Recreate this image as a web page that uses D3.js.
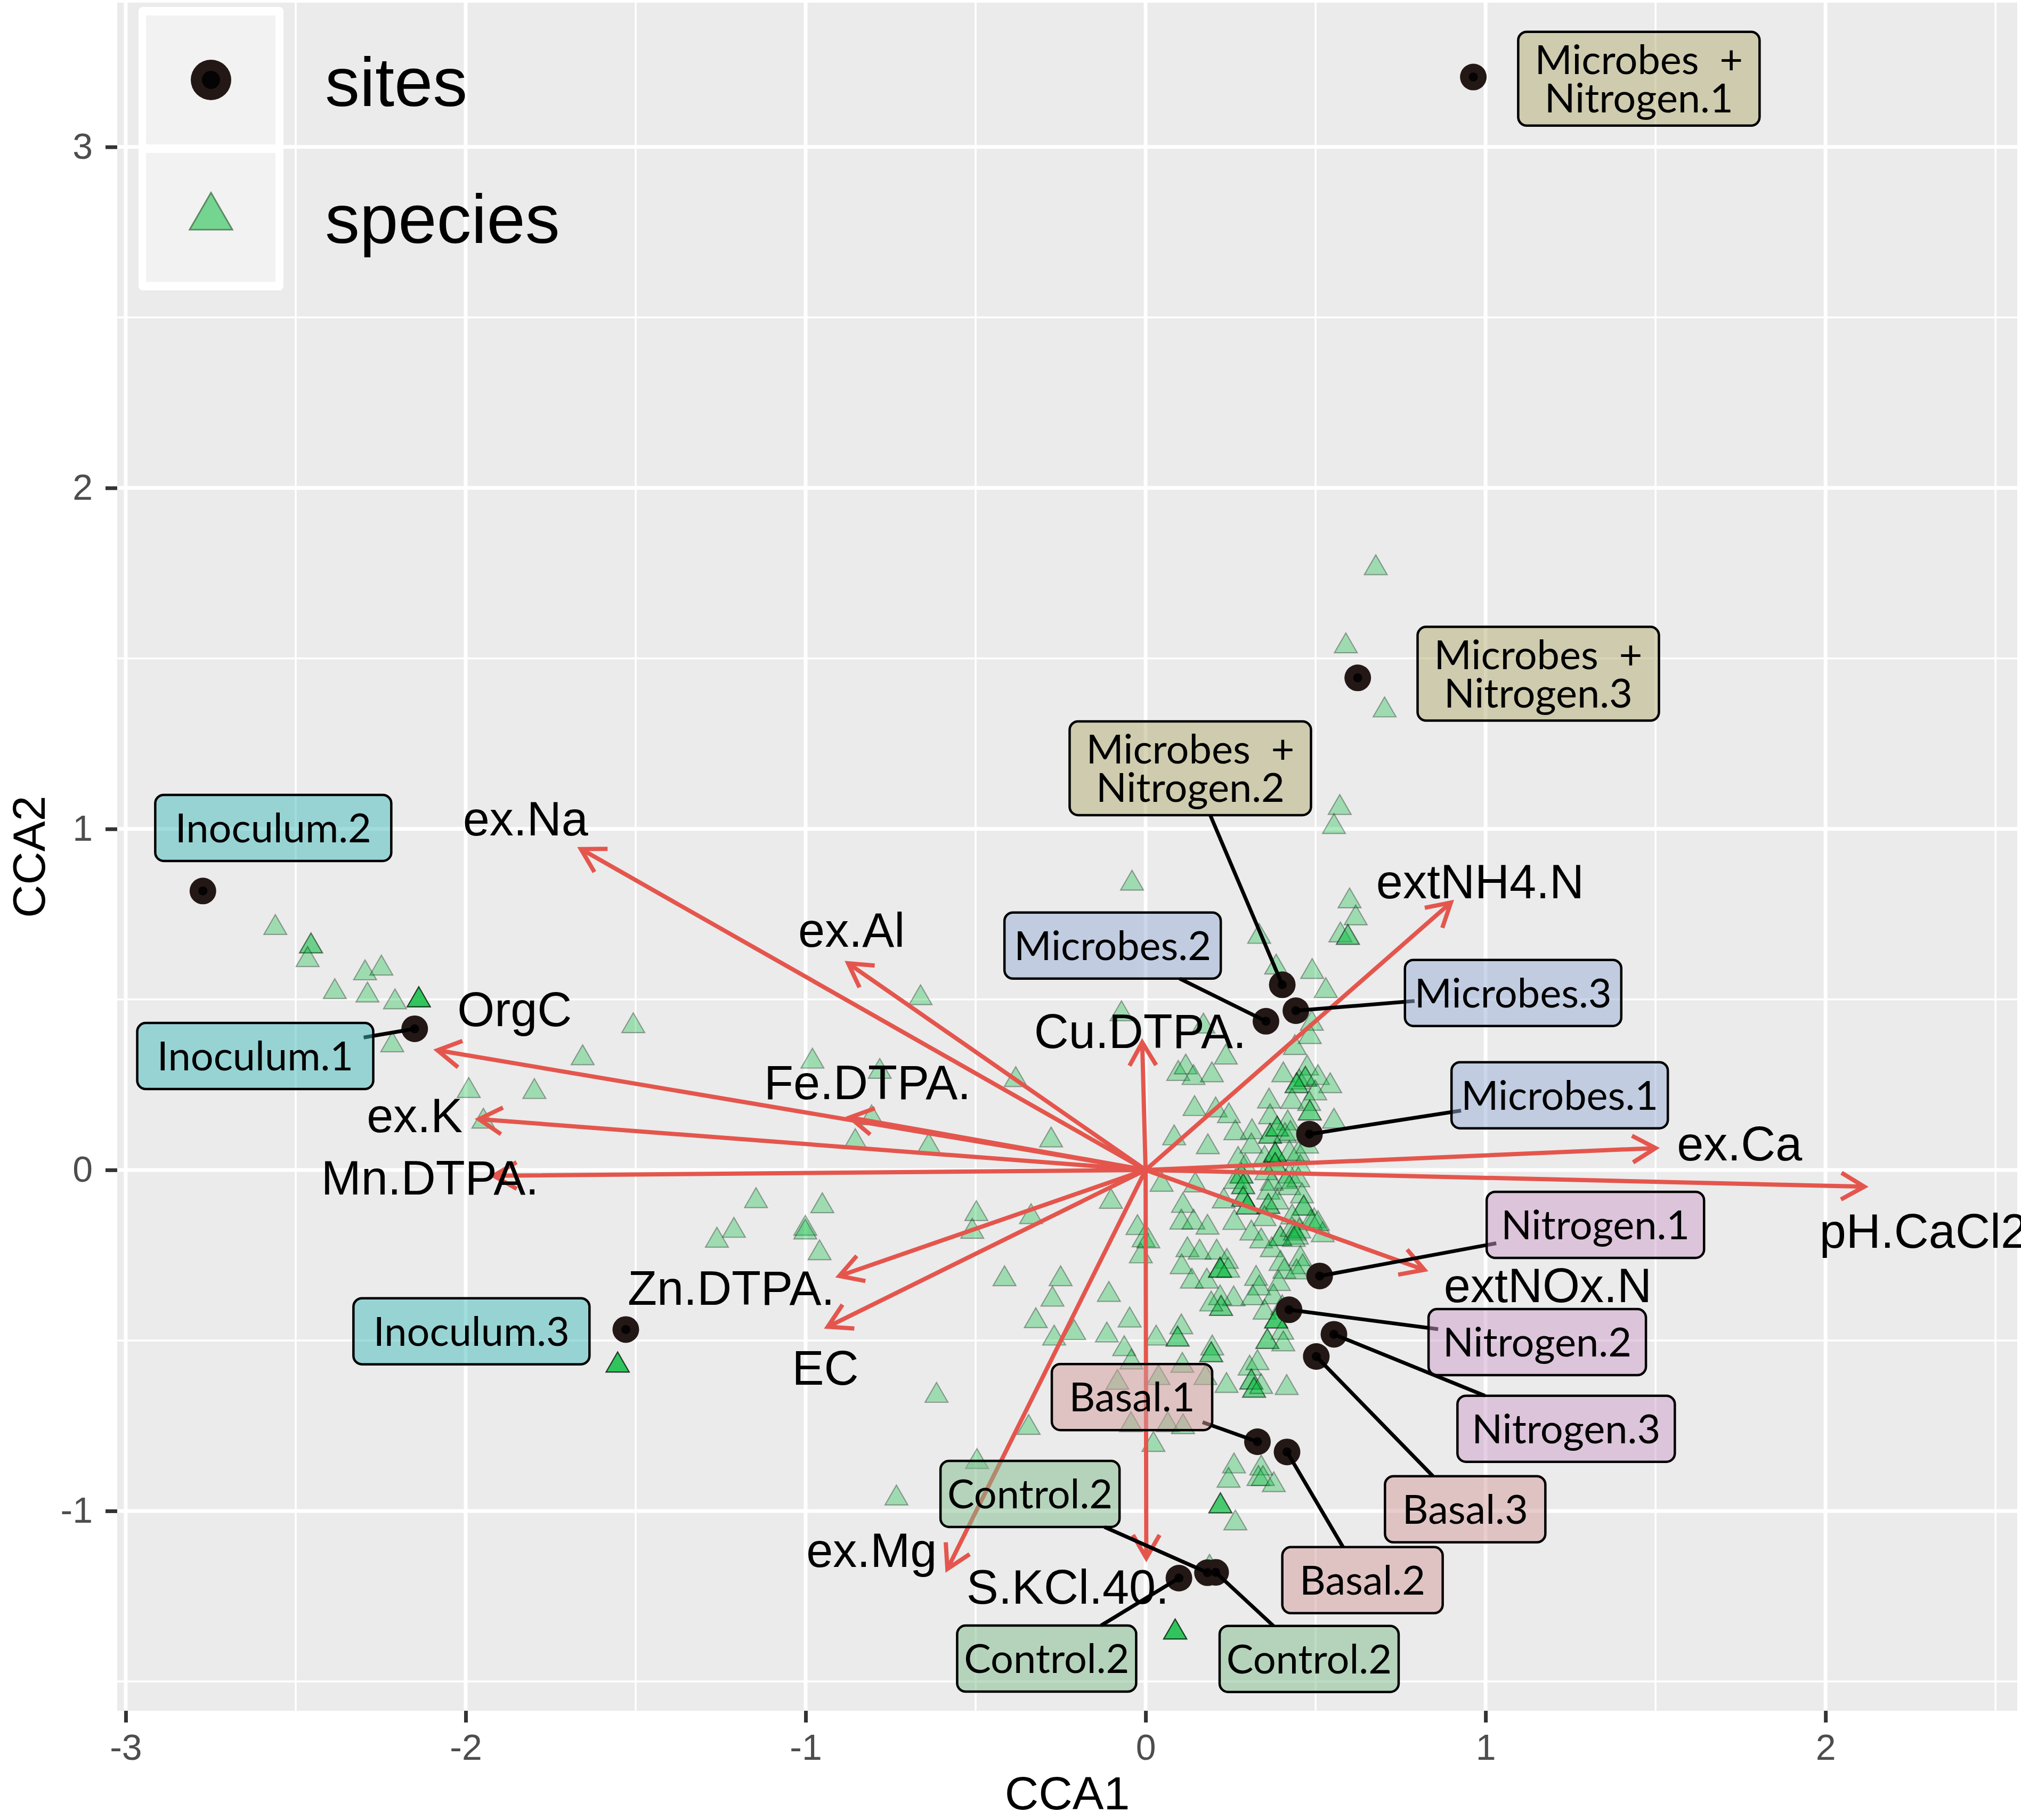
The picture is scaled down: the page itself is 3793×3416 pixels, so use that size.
<!DOCTYPE html>
<html>
<head>
<meta charset="utf-8">
<script src="https://cdn.jsdelivr.net/npm/d3@7"></script>
<style>
  body { margin: 0; background: #fff; }
  svg { display: block; }
</style>
</head>
<body>
<svg width="3793" height="3416"></svg>
<script>
// ---- data ----
var xTicks = [-3, -2, -1, 0, 1, 2];
var yTicks = [-1, 0, 1, 2, 3];
var xMinor = [-2.5, -1.5, -0.5, 0.5, 1.5, 2.5];
var yMinor = [-1.5, -0.5, 0.5, 1.5, 2.5];

// sites (samples)
var siteLabels = ["Microbes  +\nNitrogen.1", "Microbes  +\nNitrogen.2", "Microbes  +\nNitrogen.3",
  "Microbes.1", "Microbes.2", "Microbes.3",
  "Nitrogen.1", "Nitrogen.2", "Nitrogen.3",
  "Basal.1", "Basal.2", "Basal.3",
  "Control.2", "Control.2", "Control.2",
  "Inoculum.1", "Inoculum.2", "Inoculum.3"];
var siteGroup = ["MN", "MN", "MN", "Microbes", "Microbes", "Microbes",
  "Nitrogen", "Nitrogen", "Nitrogen", "Basal", "Basal", "Basal",
  "Control", "Control", "Control", "Inoculum", "Inoculum", "Inoculum"];
var siteCCA1 = [0.964, 0.402, 0.624, 0.482, 0.354, 0.442, 0.512, 0.422, 0.554,
  0.329, 0.416, 0.502, 0.182, 0.098, 0.206, -2.150, -2.773, -1.529];
var siteCCA2 = [3.205, 0.543, 1.443, 0.105, 0.436, 0.467, -0.311, -0.410, -0.482,
  -0.797, -0.827, -0.547, -1.181, -1.197, -1.180, 0.414, 0.818, -0.468];
// where the repelled labels ended up (CCA units)
var labelCCA1 = [1.451, 0.1315, 1.155, 1.218, -0.097, 1.081, 1.323, 1.152, 1.237,
  -0.040, 0.638, 0.940, -0.340, -0.291, 0.481, -2.619, -2.566, -1.983];
var labelCCA2 = [3.200, 1.178, 1.455, 0.219, 0.658, 0.519, -0.161, -0.505, -0.759,
  -0.666, -1.203, -0.995, -0.950, -1.433, -1.434, 0.334, 1.003, -0.473];
var noSegment = [0, 2, 16, 17];

// environmental vectors
var envNames = ["ex.Na", "ex.Al", "OrgC", "ex.K", "Mn.DTPA.", "Fe.DTPA.", "Zn.DTPA.", "EC",
  "Cu.DTPA.", "extNH4.N", "ex.Ca", "pH.CaCl2", "extNOx.N", "S.KCl.40.", "ex.Mg"];
var envCCA1 = [-1.661, -0.875, -2.083, -1.961, -1.918, -0.870, -0.901, -0.935,
  -0.010, 0.898, 1.500, 2.114, 0.820, 0.002, -0.583];
var envCCA2 = [0.941, 0.606, 0.351, 0.149, -0.017, 0.154, -0.311, -0.460,
  0.374, 0.784, 0.064, -0.049, -0.293, -1.138, -1.170];
var envLabelCCA1 = [-1.824, -0.865, -1.856, -2.150, -2.105, -0.818, -1.219, -0.942,
  -0.016, 0.984, 1.747, 2.288, 1.183, -0.229, -0.806];
var envLabelCCA2 = [1.031, 0.705, 0.473, 0.162, -0.022, 0.258, -0.345, -0.579,
  0.408, 0.848, 0.078, -0.178, -0.337, -1.222, -1.113];

// species scores [CCA1, CCA2]
var species = [
  [-2.560, 0.710], [-2.455, 0.656], [-2.455, 0.656], [-2.465, 0.616], [-2.296, 0.577],
  [-2.248, 0.591], [-2.385, 0.522], [-2.289, 0.512], [-2.208, 0.492],
  [-2.138, 0.498], [-2.138, 0.498], [-2.138, 0.498], [-2.138, 0.498],
  [-2.216, 0.366], [-1.507, 0.422], [-1.656, 0.328], [-1.991, 0.232], [-1.798, 0.229], [-1.948, 0.142],
  [-0.980, 0.318], [-0.782, 0.288], [-0.806, 0.152], [-0.854, 0.082], [-0.638, 0.069],
  [-0.662, 0.504], [-0.382, 0.264], [-0.278, 0.087], [-1.146, -0.091], [-0.951, -0.106],
  [-1.211, -0.178], [-1.261, -0.207], [-1.001, -0.172], [-1.001, -0.183], [-0.959, -0.244],
  [-0.498, -0.129], [-0.510, -0.181], [-0.337, -0.138], [-0.415, -0.320], [-0.250, -0.320],
  [-0.274, -0.380], [-0.323, -0.443], [-0.269, -0.494], [-0.210, -0.478], [-0.615, -0.662],
  [-0.344, -0.756], [-0.496, -0.856], [-0.733, -0.963],
  [-1.553, -0.573], [-1.553, -0.573], [-1.553, -0.573], [-1.553, -0.573],
  [-0.102, -0.093], [-0.024, -0.170], [-0.006, -0.206], [-0.014, -0.253], [-0.108, -0.366],
  [-0.047, -0.441], [-0.114, -0.485], [-0.063, -0.525], [-0.042, -0.564], [-0.083, -0.624],
  [-0.043, -0.748], [0.065, -0.748], [0.110, -0.754], [0.023, -0.806],
  [0.087, -1.356], [0.087, -1.356], [0.087, -1.356], [0.087, -1.356],
  [0.220, -0.986], [0.220, -0.986], [0.220, -0.986],
  [0.264, -1.036], [0.188, -1.166], [0.260, -0.869], [0.244, -0.911], [0.340, -0.875],
  [0.332, -0.906], [0.345, -0.906], [0.377, -0.924], [0.038, -0.610], [0.108, -0.574],
  [0.176, -0.610], [0.238, -0.633], [0.415, -0.639],
  [0.677, 1.765], [0.589, 1.536], [0.703, 1.348], [0.571, 1.062], [0.554, 1.006],
  [-0.040, 0.840], [0.600, 0.788], [0.618, 0.738], [0.334, 0.684], [0.384, 0.594],
  [0.490, 0.581], [0.530, 0.525], [0.573, 0.688], [0.595, 0.681], [0.595, 0.681],
  [-0.071, 0.457], [0.170, 0.421], [0.096, 0.282], [0.118, 0.301], [0.141, 0.270],
  [0.195, 0.278], [0.236, 0.330], [0.489, 0.429], [0.483, 0.390], [0.439, 0.358],
  [0.405, 0.278], [0.475, 0.298], [0.452, 0.257], [0.470, 0.265], [0.470, 0.265],
  [0.507, 0.270], [0.543, 0.246], [0.499, 0.225], [0.444, 0.246], [0.444, 0.246],
  [0.431, 0.200], [0.481, 0.194], [0.483, 0.166], [0.483, 0.166], [0.554, 0.142],
  [0.363, 0.201], [0.144, 0.179], [0.206, 0.175], [0.245, 0.158], [0.366, 0.155],
  [0.418, 0.137], [0.264, 0.108], [0.313, 0.111], [0.311, 0.069], [0.366, 0.098],
  [0.366, 0.098], [0.387, 0.119], [0.387, 0.119], [0.410, 0.100], [0.426, 0.106],
  [0.084, 0.093], [0.183, 0.067], [0.272, 0.030], [0.293, 0.009], [0.350, 0.033],
  [0.381, 0.043], [0.381, 0.043], [0.381, 0.043], [0.381, 0.012], [0.381, 0.012],
  [0.423, 0.048], [0.449, 0.046], [0.475, 0.069], [0.455, 0.007], [0.355, -0.009],
  [0.423, -0.019], [0.282, -0.019], [0.282, -0.019], [0.264, -0.035], [0.287, -0.050],
  [0.287, -0.050], [0.371, -0.040], [0.413, -0.035], [0.449, -0.030], [0.146, -0.045],
  [0.047, -0.043], [0.361, -0.066], [0.423, -0.053], [0.460, -0.077], [0.230, -0.092],
  [0.287, -0.087], [0.287, -0.087], [0.300, -0.110], [0.300, -0.110], [0.361, -0.108],
  [0.361, -0.108], [0.387, -0.095], [0.465, -0.113], [0.465, -0.113], [0.110, -0.105],
  [0.105, -0.154], [0.141, -0.154], [0.182, -0.169], [0.261, -0.155], [0.431, -0.139],
  [0.350, -0.144], [0.496, -0.150], [0.311, -0.186], [0.340, -0.209], [0.396, -0.202],
  [0.396, -0.202], [0.430, -0.175], [0.439, -0.186], [0.445, -0.198], [0.452, -0.180],
  [0.436, -0.205], [0.521, -0.191], [0.486, -0.155], [0.371, -0.235], [0.455, -0.261],
  [0.397, -0.275], [0.408, -0.298], [0.462, -0.285], [0.444, -0.300], [0.392, -0.334],
  [0.008, -0.209], [0.123, -0.235], [0.159, -0.242], [0.209, -0.242], [0.106, -0.285],
  [0.136, -0.327], [0.180, -0.327], [0.239, -0.269], [0.219, -0.295], [0.219, -0.295],
  [0.219, -0.295], [0.243, -0.295], [0.259, -0.379], [0.219, -0.376], [0.222, -0.407],
  [0.222, -0.407], [0.193, -0.394], [0.325, -0.319], [0.334, -0.347], [0.315, -0.376],
  [0.376, -0.373], [0.350, -0.418], [0.402, -0.405], [0.384, -0.444], [0.384, -0.444],
  [0.384, -0.444], [0.402, -0.477], [0.358, -0.504], [0.358, -0.504], [0.405, -0.511],
  [0.031, -0.494], [0.105, -0.461], [0.094, -0.497], [0.094, -0.497], [0.196, -0.523],
  [0.193, -0.543], [0.193, -0.543], [0.306, -0.582], [0.329, -0.566], [0.311, -0.623],
  [0.311, -0.623], [0.319, -0.647], [0.319, -0.647], [0.340, -0.636], [0.507, -0.158]
];

// ---- styling ----
var groupStyle = {
  MN:       { fill: "rgba(179,171,113,0.5)", w: 453 },
  Microbes: { fill: "rgba(151,173,213,0.5)", w: 406 },
  Nitrogen: { fill: "rgba(205,157,201,0.5)", w: 408 },
  Basal:    { fill: "rgba(211,155,155,0.5)", w: 301 },
  Control:  { fill: "rgba(127,187,139,0.5)", w: 336 },
  Inoculum: { fill: "rgba(69,187,189,0.5)",  w: 443 }
};
var arrowRed = "#E4564D";
var sansFont = "'Liberation Sans', Arial, Helvetica, sans-serif";
var labelFontFamily = "Lato, 'Open Sans', sans-serif";

var svg = d3.select("svg");
var panel = { left: 220, right: 3786, top: 5, bottom: 3211 };

var x = d3.scaleLinear().domain([-3.025, 2.564]).range([panel.left, panel.right]);
var y = d3.scaleLinear().domain([-1.586, 3.423]).range([panel.bottom, panel.top]);

// panel background + grid
svg.append("rect")
  .attr("x", panel.left).attr("y", panel.top)
  .attr("width", panel.right - panel.left).attr("height", panel.bottom - panel.top)
  .attr("fill", "#EBEBEB");

var grid = svg.append("g").attr("stroke", "#fff").attr("fill", "none");
grid.selectAll(".vminor").data(xMinor).enter().append("line")
  .attr("x1", function(d) { return x(d); }).attr("x2", function(d) { return x(d); })
  .attr("y1", panel.top).attr("y2", panel.bottom).attr("stroke-width", 3.5);
grid.selectAll(".hminor").data(yMinor).enter().append("line")
  .attr("y1", function(d) { return y(d); }).attr("y2", function(d) { return y(d); })
  .attr("x1", panel.left).attr("x2", panel.right).attr("stroke-width", 3.5);
grid.selectAll(".vmajor").data(xTicks).enter().append("line")
  .attr("x1", function(d) { return x(d); }).attr("x2", function(d) { return x(d); })
  .attr("y1", panel.top).attr("y2", panel.bottom).attr("stroke-width", 7);
grid.selectAll(".hmajor").data(yTicks).enter().append("line")
  .attr("y1", function(d) { return y(d); }).attr("y2", function(d) { return y(d); })
  .attr("x1", panel.left).attr("x2", panel.right).attr("stroke-width", 7);

// species triangles
function triPath(s) {
  var h = s * Math.sqrt(3) / 2;
  return "M0," + (-2 * h / 3) + "L" + (s / 2) + "," + (h / 3) + "L" + (-s / 2) + "," + (h / 3) + "Z";
}
svg.append("g").selectAll("path").data(species).enter().append("path")
  .attr("d", triPath(43))
  .attr("transform", function(d) { return "translate(" + x(d[0]) + "," + y(d[1]) + ")"; })
  .attr("fill", "rgba(0,186,56,0.32)")
  .attr("stroke", "rgba(0,0,0,0.32)")
  .attr("stroke-width", 2.2);

// environmental arrows
function arrowPath(x0, y0, x1, y1) {
  var a = Math.atan2(y1 - y0, x1 - x0), L = 50, h = Math.PI / 6;
  var p1 = [x1 - L * Math.cos(a - h), y1 - L * Math.sin(a - h)];
  var p2 = [x1 - L * Math.cos(a + h), y1 - L * Math.sin(a + h)];
  return "M" + x0 + "," + y0 + "L" + x1 + "," + y1 +
    "M" + p1[0] + "," + p1[1] + "L" + x1 + "," + y1 + "L" + p2[0] + "," + p2[1];
}
svg.append("g").selectAll("path").data(envNames).enter().append("path")
  .attr("d", function(d, i) { return arrowPath(x(0), y(0), x(envCCA1[i]), y(envCCA2[i])); })
  .attr("fill", "none")
  .attr("stroke", arrowRed)
  .attr("stroke-width", 8)
  .attr("stroke-linejoin", "miter");

// site points
var sites = svg.append("g");
sites.selectAll(".outer").data(siteLabels).enter().append("circle")
  .attr("cx", function(d, i) { return x(siteCCA1[i]); })
  .attr("cy", function(d, i) { return y(siteCCA2[i]); })
  .attr("r", 25).attr("fill", "#231815");
sites.selectAll(".inner").data(siteLabels).enter().append("circle")
  .attr("cx", function(d, i) { return x(siteCCA1[i]); })
  .attr("cy", function(d, i) { return y(siteCCA2[i]); })
  .attr("r", 8.5).attr("fill", "#050303");

// vector labels
svg.append("g").selectAll("text").data(envNames).enter().append("text")
  .attr("x", function(d, i) { return x(envLabelCCA1[i]); })
  .attr("y", function(d, i) { return y(envLabelCCA2[i]); })
  .attr("dy", "0.36em")
  .attr("text-anchor", "middle")
  .attr("font-family", sansFont)
  .attr("font-size", 90)
  .attr("fill", "#000")
  .text(function(d) { return d; });

// site label boxes (ggrepel style)
var probe = svg.append("text").attr("font-family", labelFontFamily).attr("font-size", 100).text("Microbes.2");
var labelFont = 100 * 370 / probe.node().getComputedTextLength();
probe.remove();
var lineGap = 72;

function boxOf(i) {
  var lines = siteLabels[i].split("\n");
  var w = groupStyle[siteGroup[i]].w;
  var h = 124 + (lines.length - 1) * 52;
  return { cx: x(labelCCA1[i]), cy: y(labelCCA2[i]), w: w, h: h, lines: lines };
}

var segs = svg.append("g");
siteLabels.forEach(function(d, i) {
  if (noSegment.indexOf(i) >= 0) return;
  var b = boxOf(i);
  var px = x(siteCCA1[i]), py = y(siteCCA2[i]);
  var dx = px - b.cx, dy = py - b.cy;
  var hw = b.w / 2 - 18, hh = b.h / 2;
  var t = Math.min(hw / Math.max(Math.abs(dx), 1e-6), hh / Math.max(Math.abs(dy), 1e-6));
  if (t >= 1) return;
  segs.append("line")
    .attr("x1", b.cx + dx * t).attr("y1", b.cy + dy * t)
    .attr("x2", px).attr("y2", py)
    .attr("stroke", "#000").attr("stroke-width", 7);
});

var boxes = svg.append("g");
siteLabels.forEach(function(d, i) {
  var b = boxOf(i);
  var g = boxes.append("g");
  g.append("rect")
    .attr("x", b.cx - b.w / 2).attr("y", b.cy - b.h / 2)
    .attr("width", b.w).attr("height", b.h)
    .attr("rx", 16).attr("ry", 16)
    .attr("fill", groupStyle[siteGroup[i]].fill)
    .attr("stroke", "#000").attr("stroke-width", 4.5);
  var txt = g.append("text")
    .attr("text-anchor", "middle")
    .attr("font-family", labelFontFamily)
    .attr("font-size", labelFont)
    .style("white-space", "pre")
    .attr("fill", "#000");
  b.lines.forEach(function(line, k) {
    txt.append("tspan")
      .attr("x", b.cx)
      .attr("y", b.cy + (k - (b.lines.length - 1) / 2) * lineGap)
      .attr("dy", "0.36em")
      .text(line);
  });
});

// axes
var xAxis = svg.append("g")
  .attr("transform", "translate(0," + panel.bottom + ")")
  .call(d3.axisBottom(x).tickValues(xTicks).tickSize(22).tickPadding(22)
    .tickFormat(function(d) { return String(d); }));
var yAxis = svg.append("g")
  .attr("transform", "translate(" + panel.left + ",0)")
  .call(d3.axisLeft(y).tickValues(yTicks).tickSize(22).tickPadding(24)
    .tickFormat(function(d) { return String(d); }));
[xAxis, yAxis].forEach(function(a) {
  a.select(".domain").remove();
  a.selectAll(".tick line").attr("stroke", "#333333").attr("stroke-width", 7);
  a.selectAll(".tick text").attr("fill", "#4D4D4D")
    .attr("font-family", sansFont).attr("font-size", 68);
});

svg.append("text")
  .attr("x", (panel.left + panel.right) / 2).attr("y", 3396)
  .attr("text-anchor", "middle")
  .attr("font-family", sansFont).attr("font-size", 88)
  .text("CCA1");
svg.append("text")
  .attr("transform", "translate(84," + ((panel.top + panel.bottom) / 2) + ") rotate(-90)")
  .attr("text-anchor", "middle")
  .attr("font-family", sansFont).attr("font-size", 86)
  .text("CCA2");

// legend
var legend = svg.append("g");
legend.append("rect").attr("x", 260).attr("y", 13).attr("width", 272).attr("height", 532)
  .attr("rx", 8).attr("fill", "#fff");
legend.append("rect").attr("x", 274).attr("y", 29).attr("width", 243).attr("height", 242)
  .attr("fill", "#F2F2F2");
legend.append("rect").attr("x", 274).attr("y", 287).attr("width", 243).attr("height", 242)
  .attr("fill", "#F2F2F2");
legend.append("circle").attr("cx", 396).attr("cy", 150).attr("r", 38).attr("fill", "#231815");
legend.append("circle").attr("cx", 396).attr("cy", 150).attr("r", 17).attr("fill", "#050303");
legend.append("path").attr("d", triPath(80))
  .attr("transform", "translate(396,408)")
  .attr("fill", "rgba(0,186,56,0.52)")
  .attr("stroke", "#5E8A66").attr("stroke-width", 3);
legend.selectAll(".lab").data(["sites", "species"]).enter().append("text")
  .attr("x", 610)
  .attr("y", function(d, i) { return i === 0 ? 199 : 456; })
  .attr("font-family", sansFont).attr("font-size", 130)
  .attr("fill", "#000")
  .text(function(d) { return d; });
</script>
</body>
</html>
